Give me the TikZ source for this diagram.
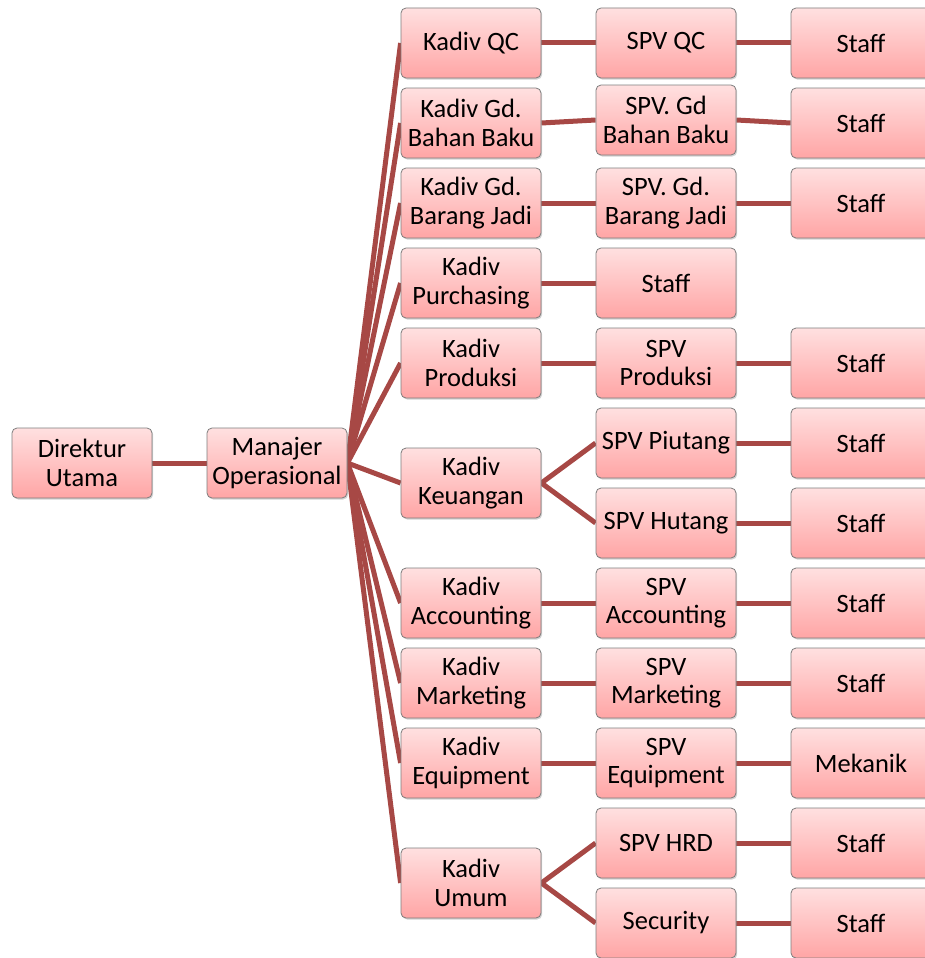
\documentclass[tikz,border=0pt]{standalone}
\usepackage{fontspec}
\setmainfont{Carlito}
\usetikzlibrary{shadows}
\pgfdeclarelayer{background}
\pgfsetlayers{background,main}
\definecolor{linkc}{RGB}{167,72,69}
\definecolor{boxtop}{RGB}{255,224,224}
\definecolor{boxbot}{RGB}{255,165,165}
\definecolor{boxline}{RGB}{125,125,125}
\begin{document}
\begin{tikzpicture}[x=1pt,y=-1pt,
  box/.style={rectangle, rounded corners=5pt, draw=boxline, line width=0.8pt,
    top color=boxtop, bottom color=boxbot, minimum width=140pt, minimum height=70pt,
    inner sep=0pt, align=center,
    font=\fontsize{26.5}{28.5}\selectfont,
    drop shadow={shadow xshift=1.2pt, shadow yshift=-1.5pt, opacity=0.35}},
  link/.style={draw=linkc, line width=5pt}]
\clip (0,0) rectangle (925,958);
% column 0/1
\node[box] (dir) at (82,463) {Direktur\\Utama};
\node[box] (man) at (277,463) {Manajer\\Operasional};
% column 2
\node[box] (k1) at (471,43) {Kadiv QC};
\node[box] (k2) at (471,123) {Kadiv Gd.\\Bahan Baku};
\node[box] (k3) at (471,203) {Kadiv Gd.\\Barang Jadi};
\node[box] (k4) at (471,283) {Kadiv\\Purchasing};
\node[box] (k5) at (471,363) {Kadiv\\Produksi};
\node[box] (k6) at (471,483) {Kadiv\\Keuangan};
\node[box] (k7) at (471,603) {Kadiv\\Accounting};
\node[box] (k8) at (471,683) {Kadiv\\Marketing};
\node[box] (k9) at (471,763) {Kadiv\\Equipment};
\node[box] (k10) at (471,883) {Kadiv\\Umum};
% column 3
\node[box] (s1) at (666,43) {SPV QC};
\node[box] (s2) at (666,120) {SPV. Gd\\Bahan Baku};
\node[box] (s3) at (666,203) {SPV. Gd.\\Barang Jadi};
\node[box] (s4) at (666,283) {Staff};
\node[box] (s5) at (666,363) {SPV\\Produksi};
\node[box] (s6a) at (666,443) {SPV Piutang};
\node[box] (s6b) at (666,523) {SPV Hutang};
\node[box] (s7) at (666,603) {SPV\\Accounting};
\node[box] (s8) at (666,683) {SPV\\Marketing};
\node[box] (s9) at (666,763) {SPV\\Equipment};
\node[box] (s10a) at (666,843) {SPV HRD};
\node[box] (s10b) at (666,923) {Security};
% column 4
\node[box] (t1) at (861,43) {Staff};
\node[box] (t2) at (861,123) {Staff};
\node[box] (t3) at (861,203) {Staff};
\node[box] (t5) at (861,363) {Staff};
\node[box] (t6a) at (861,443) {Staff};
\node[box] (t6b) at (861,523) {Staff};
\node[box] (t7) at (861,603) {Staff};
\node[box] (t8) at (861,683) {Staff};
\node[box] (t9) at (861,763) {Mekanik};
\node[box] (t10a) at (861,843) {Staff};
\node[box] (t10b) at (861,923) {Staff};
\begin{pgfonlayer}{background}
\draw[link] (dir.east) -- (man.west);
\foreach \k in {k1,k2,k3,k4,k5,k6,k7,k8,k9,k10}
  \draw[link] (man.east) -- (\k.west);
\foreach \a/\b in {k1/s1,k2/s2,k3/s3,k4/s4,k5/s5,k6/s6a,k6/s6b,k7/s7,k8/s8,k9/s9,k10/s10a,k10/s10b,
  s1/t1,s2/t2,s3/t3,s5/t5,s6a/t6a,s6b/t6b,s7/t7,s8/t8,s9/t9,s10a/t10a,s10b/t10b}
  \draw[link] (\a.east) -- (\b.west);
\end{pgfonlayer}
\end{tikzpicture}
\end{document}
